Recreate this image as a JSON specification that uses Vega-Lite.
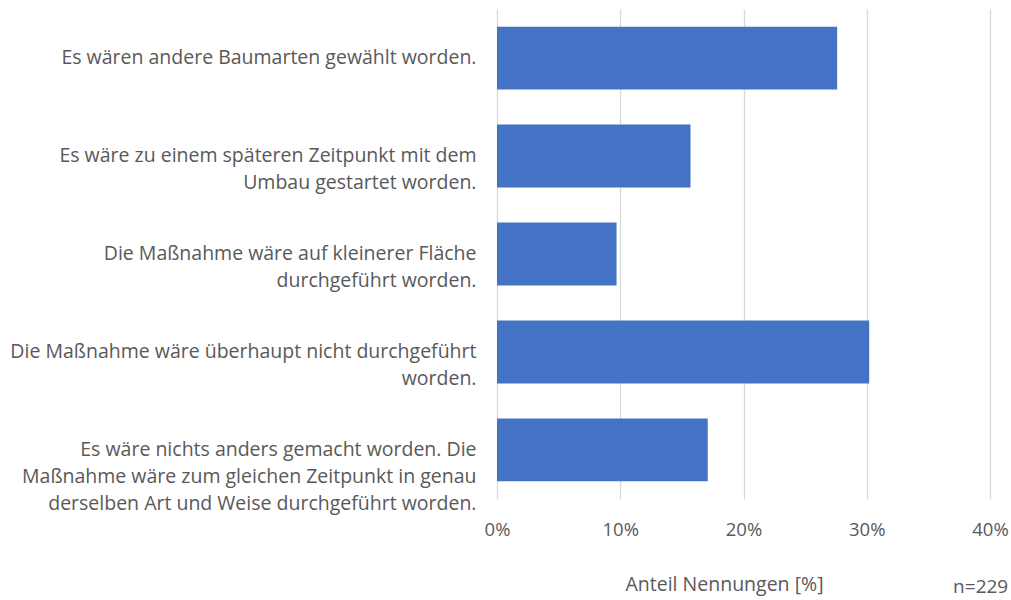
{
  "$schema": "https://vega.github.io/schema/vega-lite/v6.json",
  "width": 493,
  "height": 490,
  "autosize": "none",
  "padding": {"left": 497, "top": 9, "right": 21, "bottom": 101},
  "config": {"view": {"stroke": null}, "font": "Open Sans", "background": "white"},
  "title": {
    "text": "n=229",
    "orient": "bottom",
    "anchor": "end",
    "fontSize": 19,
    "fontWeight": "normal",
    "font": "Open Sans",
    "color": "#595959",
    "dx": 0,
    "offset": -16
  },
  "data": {
    "values": [
      {"label": "Es wären andere Baumarten gewählt worden.", "share": 0.276},
      {"label": "Es wäre zu einem späteren Zeitpunkt mit dem|Umbau gestartet worden.", "share": 0.157},
      {"label": "Die Maßnahme wäre auf kleinerer Fläche|durchgeführt worden.", "share": 0.097},
      {"label": "Die Maßnahme wäre überhaupt nicht durchgeführt|worden.", "share": 0.302},
      {"label": "Es wäre nichts anders gemacht worden. Die|Maßnahme wäre zum gleichen Zeitpunkt in genau|derselben Art und Weise durchgeführt worden.", "share": 0.171}
    ]
  },
  "mark": {"type": "bar", "color": "#4472C4"},
  "encoding": {
    "y": {
      "field": "label",
      "type": "nominal",
      "sort": null,
      "scale": {"paddingInner": 0.357, "paddingOuter": 0.18},
      "axis": {
        "title": null,
        "domain": false,
        "ticks": false,
        "labelExpr": "split(datum.value, '|')",
        "labelLimit": 0,
        "labelFontSize": 19.5,
        "labelLineHeight": 27,
        "labelColor": "#595959",
        "labelPadding": 21,
        "labelAlign": "right",
        "labelBaseline": "middle"
      }
    },
    "x": {
      "field": "share",
      "type": "quantitative",
      "scale": {"domain": [0, 0.4], "nice": false},
      "axis": {
        "values": [0, 0.1, 0.2, 0.3, 0.4],
        "format": ".0%",
        "domain": false,
        "ticks": false,
        "grid": true,
        "gridColor": "#d9d9d9",
        "gridWidth": 1.3,
        "labelFlush": false,
        "labelFontSize": 18.5,
        "labelColor": "#595959",
        "labelPadding": 21,
        "title": "Anteil Nennungen [%]",
        "titleFontSize": 19.5,
        "titleFontWeight": "normal",
        "titleColor": "#595959",
        "titleX": 227,
        "titleY": 85,
        "titleBaseline": "middle",
        "titleAlign": "center"
      }
    }
  }
}
